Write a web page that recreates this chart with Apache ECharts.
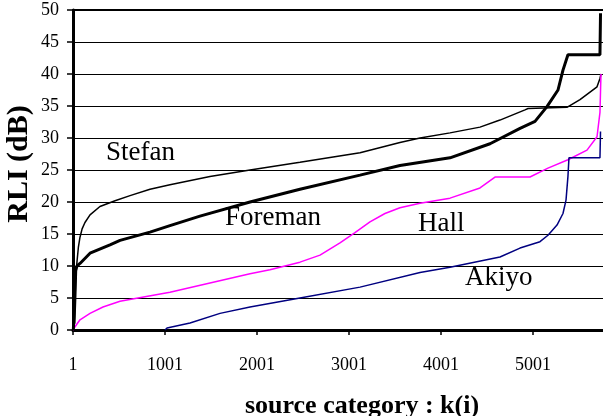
<!DOCTYPE html>
<html>
<head>
<meta charset="utf-8">
<script src="https://cdn.jsdelivr.net/npm/echarts@6/dist/echarts.min.js"></script>
<style>html,body{margin:0;padding:0;background:#fff;}#c{width:603px;height:416px;}</style>
</head>
<body>
<div id="c"></div>
<script>
// k(i) index, RLI (dB) value pairs
var stefan = [[20,1],[30,5],[40,10],[60,13],[77,14.5],[100,15.8],[131,16.8],[186,18],[294,19.3],[458,20.2],[621,21],[838,22],[1055,22.7],[1490,24],[1925,25],[2468,26.2],[3121,27.7],[3555,29.3],[3773,30],[4099,30.8],[4425,31.7],[4642,32.8],[4914,34.4],[4947,34.6],[5370,34.8],[5512,36],[5697,38],[5729,39.3],[5740,40]];
var foreman = [[5,0],[12,3],[23,9],[44,10],[77,10.4],[186,12],[403,13.3],[512,14],[838,15.3],[1055,16.3],[1381,17.8],[1925,20],[2468,22],[3121,24.2],[3555,25.7],[4099,26.9],[4534,29.1],[4860,31.5],[5023,32.6],[5153,34.9],[5273,37.5],[5327,40.6],[5381,43],[5729,43],[5735,49.5]];
var hall = [[1,0],[23,0.5],[77,1.6],[186,2.6],[327,3.6],[512,4.5],[1055,5.9],[1925,8.8],[2142,9.4],[2468,10.6],[2686,11.7],[2903,13.6],[3066,15.2],[3229,16.9],[3392,18.2],[3555,19.1],[3773,19.8],[4099,20.6],[4425,22.2],[4588,23.9],[4968,23.9],[5164,25.3],[5381,26.6],[5588,28.1],[5697,30.2],[5729,34],[5740,40]];
var akiyo = [[1001,0],[1023,0.3],[1273,1.1],[1599,2.6],[1925,3.6],[2468,5],[3121,6.7],[3773,9],[4099,9.8],[4642,11.4],[4860,12.8],[5077,13.8],[5164,14.8],[5262,16.4],[5327,18.2],[5360,20.3],[5381,24],[5392,26.9],[5729,26.9],[5735,31]];
var seriesNames = ['Stefan','Foreman','Hall','Akiyo'];
var xTickLabels = ['1','1001','2001','3001','4001','5001'];
var yTicks = [0,5,10,15,20,25,30,35,40,45,50];
var xTitle = 'source category : k(i)';
var yTitle = 'RLI (dB)';

function toAxis(arr){ return arr.map(function(p){ return [p[0]-1, p[1]]; }); }

var font = 'Liberation Serif';
var chart = echarts.init(document.getElementById('c'), null, {renderer:'canvas'});
chart.setOption({
  animation:false,
  backgroundColor:'#fff',
  grid:{left:73,right:0,top:10,bottom:86,containLabel:false,outerBoundsMode:'none'},
  xAxis:[{
    type:'value', min:0, max:5761, interval:1000,
    axisLine:{show:true,lineStyle:{color:'#000',width:3}},
    axisTick:{show:true,length:5,lineStyle:{color:'#000',width:1.5}},
    axisLabel:{margin:26,fontFamily:font,fontSize:18,color:'#000',showMaxLabel:false,
      formatter:function(v){ var i=Math.round(v/1000); return (v%1000===0 && xTickLabels[i]!==undefined)?xTickLabels[i]:''; }},
    splitLine:{show:false}
  },{
    type:'value', position:'top', min:0, max:5761,
    axisLine:{show:true,lineStyle:{color:'#000',width:2}},
    axisTick:{show:false}, axisLabel:{show:false}, splitLine:{show:false}
  }],
  yAxis:{
    type:'value', min:yTicks[0], max:yTicks[yTicks.length-1], interval:5,
    axisLine:{show:true,lineStyle:{color:'#000',width:3}},
    axisTick:{show:true,length:6,lineStyle:{color:'#000',width:1.5}},
    axisLabel:{margin:14,fontFamily:font,fontSize:18,color:'#000'},
    splitLine:{show:true,lineStyle:{color:'#000',width:1}}
  },
  series:[
    {name:seriesNames[0],type:'line',data:toAxis(stefan),showSymbol:false,lineStyle:{color:'#000',width:1.5},z:3},
    {name:seriesNames[1],type:'line',data:toAxis(foreman),showSymbol:false,lineStyle:{color:'#000',width:3},z:4},
    {name:seriesNames[2],type:'line',data:toAxis(hall),showSymbol:false,lineStyle:{color:'#ff00ff',width:1.5},z:3},
    {name:seriesNames[3],type:'line',data:toAxis(akiyo),showSymbol:false,lineStyle:{color:'#000080',width:1.5},z:3}
  ],
  graphic:[
    {type:'text',left:106,top:139,style:{text:seriesNames[0],fontFamily:font,fontSize:27,fill:'#000'}},
    {type:'text',left:225,top:204,style:{text:seriesNames[1],fontFamily:font,fontSize:27,fill:'#000'}},
    {type:'text',left:418,top:210,style:{text:seriesNames[2],fontFamily:font,fontSize:27,fill:'#000'}},
    {type:'text',left:465,top:264,style:{text:seriesNames[3],fontFamily:font,fontSize:27,fill:'#000'}},
    {type:'text',x:362,y:406,style:{text:xTitle,fontFamily:font,fontWeight:'bold',fontSize:26,fill:'#000',textAlign:'center',textVerticalAlign:'middle'}},
    {type:'text',x:19,y:164,rotation:Math.PI/2,style:{text:yTitle,fontFamily:font,fontWeight:'bold',fontSize:30,fill:'#000',textAlign:'center',textVerticalAlign:'middle'}}
  ]
});
</script>
</body>
</html>
